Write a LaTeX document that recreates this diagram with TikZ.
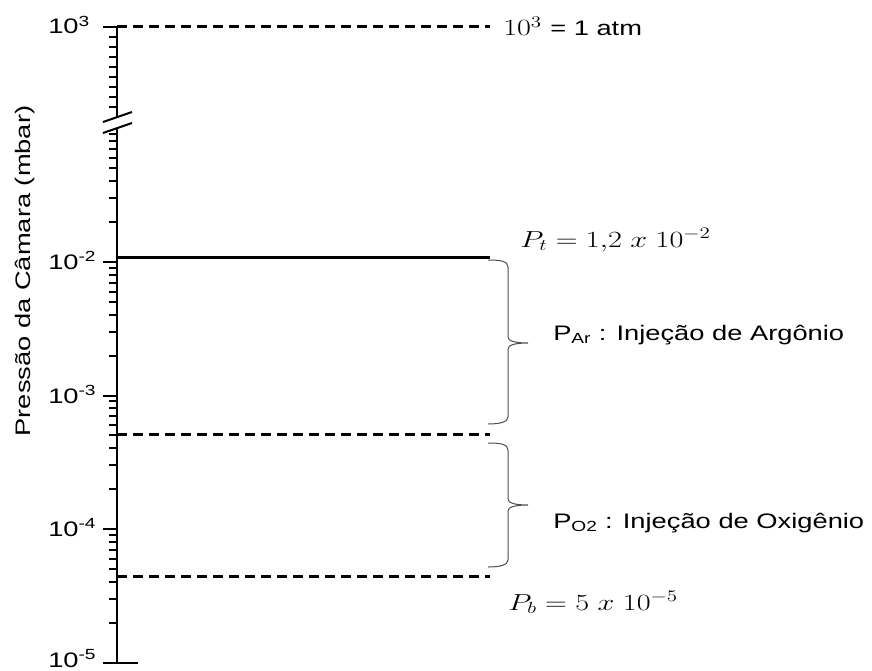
\documentclass[tikz,border=0pt]{standalone}
\usepackage{fontspec}
\setmainfont{Liberation Sans}
\usetikzlibrary{positioning}

\begin{document}
\begin{tikzpicture}[x=1pt, y=-1pt,
    lbl/.style={font=\fontsize{21}{25}\selectfont, inner sep=0pt, xscale=1.3},
    mth/.style={lbl, scale=1.12},
    axis/.style={line width=2.7pt},
    tickmaj/.style={line width=2pt},
    tickmin/.style={line width=1.8pt},
    dashln/.style={line width=3pt, dash pattern=on 10pt off 6pt},
    solidln/.style={line width=3pt},
    brc/.style={line width=1pt, black!70}]
    \useasboundingbox (0,0) rectangle (872,671);
    % axis with break
    \coordinate (top) at (117,27);
    \coordinate (brk1) at (117,117);
    \coordinate (brk2) at (117,128);
    \coordinate (bot) at (117,663);
    \draw[axis] (top) -- (brk1);
    \draw[axis] (brk2) -- (bot);
    \draw[tickmaj] (103,122) -- (132,112);
    \draw[tickmaj] (103,133) -- (132,123);
    % ticks
    \draw[tickmaj] (103,27) -- (top);
    \draw[tickmaj] (103,663) -- (138,663);
    \foreach \y in {37,47,...,107} \draw[tickmin] (109,\y) -- (117,\y);
    \foreach \y in {262,396,529,663}
      \foreach \k in {2,...,9} {
        \pgfmathsetmacro\yy{\y-134*log10(\k)}
        \draw[tickmin] (109,\yy) -- (117,\yy);
      }
    \foreach \y in {262,396,529} \draw[tickmaj] (103,\y) -- (117,\y);
    % tick labels
    \node[lbl, anchor=base west] (lab3) at (48,34) {10\textsuperscript{3}};
    \node[lbl, anchor=base west] (lab2) at (48,269) {10\textsuperscript{-2}};
    \node[lbl, anchor=base west] (lab3m) at (48,403) {10\textsuperscript{-3}};
    \node[lbl, anchor=base west] (lab4) at (48,536) {10\textsuperscript{-4}};
    \node[lbl, anchor=base west] (lab5) at (48,667) {10\textsuperscript{-5}};
    \node[rotate=90, lbl] (title) at (25,271) {Pressão da Câmara (mbar)};
    % pressure levels
    \coordinate (atmR) at (490,27);
    \coordinate (ptL) at (117,257);  \coordinate (ptR) at (490,257);
    \coordinate (arL) at (117,434);  \coordinate (arR) at (490,434);
    \coordinate (pbL) at (117,576);  \coordinate (pbR) at (490,576);
    \draw[dashln] (top) -- (atmR);
    \draw[solidln] (ptL) -- (ptR);
    \draw[dashln] (arL) -- (arR);
    \draw[dashln] (pbL) -- (pbR);
    % braces
    \draw[brc] (488,260) .. controls (500,260) and (508,261) .. (508,267)
      -- (508,337) .. controls (508,341) and (515,343) .. (528,343)
      .. controls (515,343) and (508,345) .. (508,349)
      -- (508,417) .. controls (508,422) and (500,424) .. (488,424);
    \draw[brc] (488,443) .. controls (500,443) and (508,444) .. (508,450)
      -- (508,499) .. controls (508,503) and (515,505) .. (528,505)
      .. controls (515,505) and (508,507) .. (508,511)
      -- (508,560) .. controls (508,565) and (500,567) .. (488,567);
    % labels
    \node[mth, anchor=base west] (atmexp) at (503,36) {$10^3$};
    \node[lbl, anchor=base west] (atm) at (550,36) {= 1 atm};
    \node[mth, anchor=base west] (pt) at (520,247) {$P_t = 1{,}2\ x\ 10^{-2}$};
    \node[lbl, anchor=base west] (par) at (553,340) {P\textsubscript{Ar} : Injeção de Argônio};
    \node[lbl, anchor=base west] (po2) at (553,528) {P\textsubscript{O2} : Injeção de Oxigênio};
    \node[mth, anchor=base west] (pb) at (508,610) {$P_b = 5\ x\ 10^{-5}$};
\end{tikzpicture}
\end{document}
